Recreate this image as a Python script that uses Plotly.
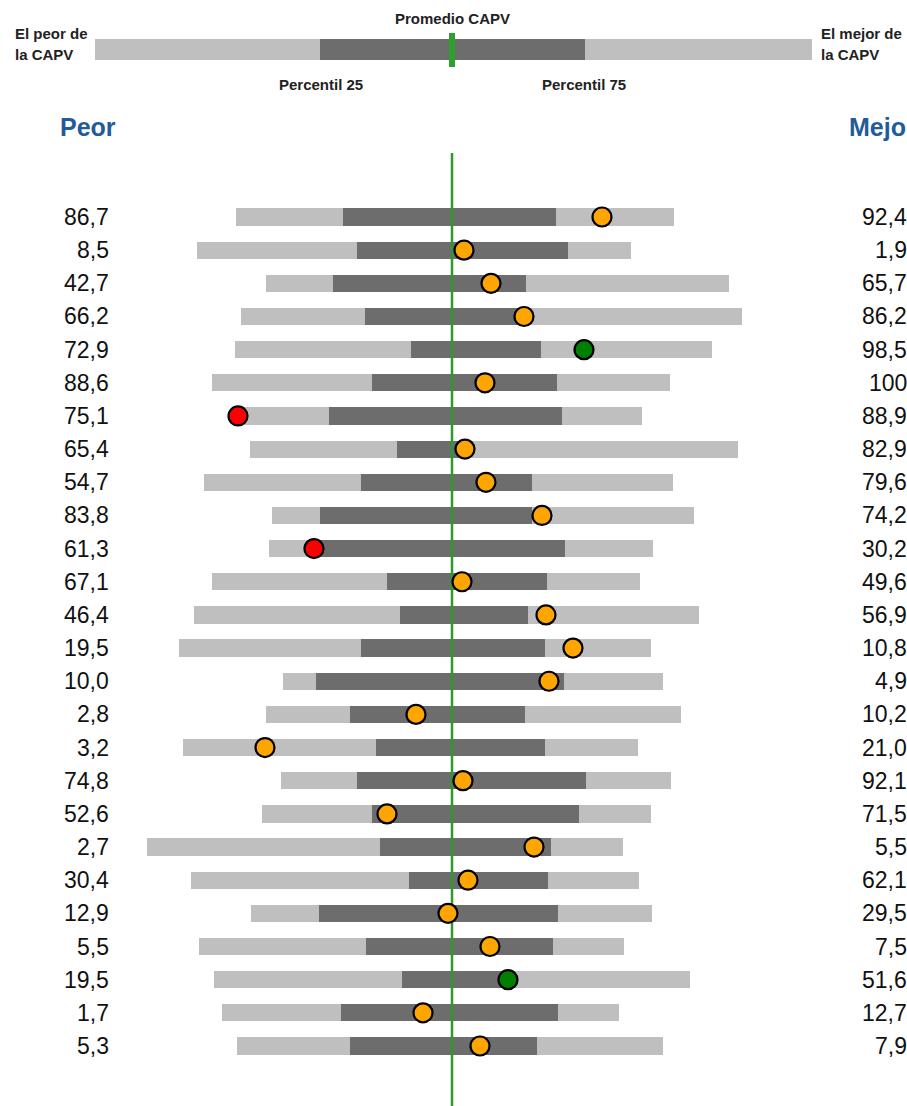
import plotly.graph_objects as go

# ---- data (positions on the normalised scale; CAPV average at 452) ----
peor_labels = ["86,7", "8,5", "42,7", "66,2", "72,9", "88,6", "75,1", "65,4", "54,7",
               "83,8", "61,3", "67,1", "46,4", "19,5", "10,0", "2,8", "3,2", "74,8",
               "52,6", "2,7", "30,4", "12,9", "5,5", "19,5", "1,7", "5,3"]
mejor_labels = ["92,4", "1,9", "65,7", "86,2", "98,5", "100", "88,9", "82,9", "79,6",
                "74,2", "30,2", "49,6", "56,9", "10,8", "4,9", "10,2", "21,0", "92,1",
                "71,5", "5,5", "62,1", "29,5", "7,5", "51,6", "12,7", "7,9"]
minimo = [236, 197, 266, 241, 235, 212, 240, 250, 204, 272, 269, 212, 194,
          179, 283, 266, 183, 281, 262, 147, 191, 251, 199, 214, 222, 237]
p25 = [343, 357, 333, 365, 411, 372, 329, 397, 361, 320, 318, 387, 400,
       361, 316, 350, 376, 357, 372, 380, 409, 319, 366, 402, 341, 350]
p75 = [556, 568, 526, 522, 541, 557, 562, 460, 532, 532, 565, 547, 528,
       545, 564, 525, 545, 586, 579, 551, 548, 558, 553, 505, 558, 537]
maximo = [674, 631, 729, 742, 712, 670, 642, 738, 673, 694, 653, 640, 699,
          651, 663, 681, 638, 671, 651, 623, 639, 652, 624, 690, 619, 663]
valor = [602, 464, 491, 524, 584, 485, 238, 465, 486, 542, 314, 462, 546,
         573, 549, 416, 265, 463, 387, 534, 468, 448, 490, 508, 423, 480]
estado = ["medio", "medio", "medio", "medio", "mejor", "medio", "peor", "medio", "medio",
          "medio", "peor", "medio", "medio", "medio", "medio", "medio", "medio", "medio",
          "medio", "medio", "medio", "medio", "medio", "mejor", "medio", "medio"]
promedio = 452

# legend key values
key_min, key_p25, key_prom, key_p75, key_max = 95, 320, 452, 585, 812

# ---- styling ----
W, H = 907, 1106
LIGHT = "#BFBFBF"
DARK = "#6D6D6D"
GREEN_LINE = "#2E9A2E"
BLUE = "#1F5C99"
dot_colors = {"medio": "#FFA500", "peor": "#FF0000", "mejor": "#008000"}
NUM_FONT = dict(family="Liberation Sans, Arial, sans-serif", size=23, color="#111111")
HDR_FONT = dict(family="Liberation Sans Narrow, Arial Narrow, Liberation Sans, sans-serif",
                size=15, color="#222222")

ROW0_PX, ROW_STEP = 217, 33.16
y_top = -ROW0_PX / ROW_STEP
y_bot = (H - ROW0_PX) / ROW_STEP


def py(p):
    return 1 - p / H


rows = list(range(len(valor)))

fig = go.Figure()
fig.add_trace(go.Bar(
    y=rows, x=[b - a for a, b in zip(minimo, maximo)], base=minimo, orientation="h",
    width=0.52, marker=dict(color=LIGHT, line=dict(width=0)), hoverinfo="skip"))
fig.add_trace(go.Bar(
    y=rows, x=[b - a for a, b in zip(p25, p75)], base=p25, orientation="h",
    width=0.52, marker=dict(color=DARK, line=dict(width=0)), hoverinfo="skip"))
fig.add_trace(go.Scatter(
    x=[promedio, promedio], y=[(153 - ROW0_PX) / ROW_STEP, y_bot], mode="lines",
    line=dict(color=GREEN_LINE, width=2.5), hoverinfo="skip"))
fig.add_trace(go.Scatter(
    x=valor, y=rows, mode="markers",
    marker=dict(size=19, color=[dot_colors[e] for e in estado],
                line=dict(color="black", width=2.2))))

shapes = [
    dict(type="rect", xref="x", yref="paper", x0=key_min, x1=key_max, y0=py(60), y1=py(39),
         fillcolor=LIGHT, line=dict(width=0), layer="above"),
    dict(type="rect", xref="x", yref="paper", x0=key_p25, x1=key_p75, y0=py(60), y1=py(39),
         fillcolor=DARK, line=dict(width=0), layer="above"),
    dict(type="rect", xref="x", yref="paper", x0=key_prom - 3, x1=key_prom + 3, y0=py(67), y1=py(33),
         fillcolor="#2EA02E", line=dict(width=0), layer="above"),
]

ann = []
def txt(x, y, s, font, xanchor="left"):
    ann.append(dict(x=x / W, y=y, xref="paper", yref="paper", text=s, showarrow=False,
                    xanchor=xanchor, yanchor="middle", font=font))

hb = dict(HDR_FONT)
txt(key_prom, py(19), "<b>Promedio CAPV</b>", hb, "center")
txt(13, py(33), "<b>El peor de</b>", hb)
txt(13, py(54), "<b>la CAPV</b>", hb)
txt(819, py(33), "<b>El mejor de</b>", hb)
txt(819, py(54), "<b>la CAPV</b>", hb)
txt(key_p25 + 1, py(85), "<b>Percentil 25</b>", hb, "center")
txt(key_p75 - 1, py(85), "<b>Percentil 75</b>", hb, "center")
blue = dict(family="Liberation Sans, Arial, sans-serif", size=25, color=BLUE)
txt(58, py(127), "<b>Peor</b>", blue)
txt(847, py(127), "<b>Mejor</b>", blue)

for i in rows:
    ann.append(dict(x=111 / W, y=i, xref="paper", yref="y", text=peor_labels[i], showarrow=False,
                    xanchor="right", yanchor="middle", font=NUM_FONT))
    ann.append(dict(x=909 / W, y=i, xref="paper", yref="y", text=mejor_labels[i], showarrow=False,
                    xanchor="right", yanchor="middle", font=NUM_FONT))

fig.update_layout(
    width=W, height=H, margin=dict(l=0, r=0, t=0, b=0),
    paper_bgcolor="white", plot_bgcolor="white", showlegend=False,
    barmode="overlay", bargap=0,
    xaxis=dict(range=[0, W], visible=False, fixedrange=True),
    yaxis=dict(range=[y_bot, y_top], visible=False, fixedrange=True),
    shapes=shapes, annotations=ann,
)
fig.write_html("out.html", config={"displayModeBar": False},
               post_script="document.body.style.margin='0px';document.body.style.overflow='hidden';")
